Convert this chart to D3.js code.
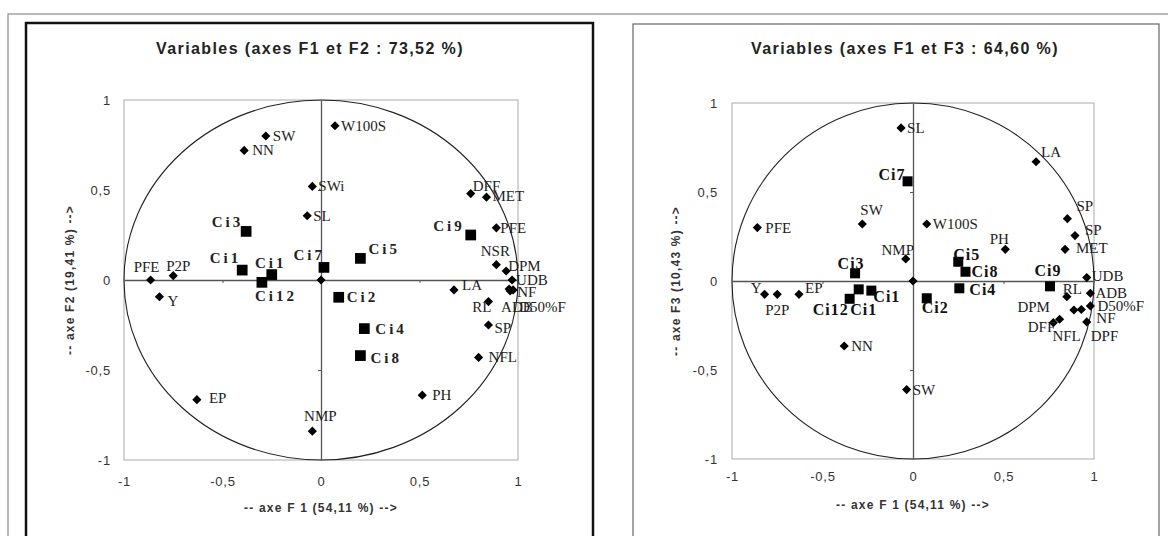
<!DOCTYPE html>
<html>
<head>
<meta charset="utf-8">
<script src="https://cdn.jsdelivr.net/npm/d3@7"></script>
<style>
  body { margin: 0; background: #fff; }
  svg text { font-family: "Liberation Sans", Arial, sans-serif; }
  .title { font-size: 16px; font-weight: bold; fill: #222; letter-spacing: 1.4px; }
  .axisTitle { font-size: 12px; font-weight: bold; fill: #333; letter-spacing: 1.2px; }
  .tickLbl text { font-size: 13px; fill: #333; letter-spacing: 0.8px; }
  .varLbl { font-family: "Liberation Serif", "Times New Roman", serif !important; font-size: 15px; fill: #222; }
  .obsLblA { font-family: "Liberation Serif", "Times New Roman", serif !important; font-size: 15px; font-weight: bold; fill: #222; letter-spacing: 3px; }
  .obsLblB { font-family: "Liberation Serif", "Times New Roman", serif !important; font-size: 16px; font-weight: bold; fill: #111; letter-spacing: 1px; }
</style>
</head>
<body>
<svg id="chart" width="1168" height="536"></svg>
<script>
/*********************************
   DATA
 *********************************/

// Axis Ticks
const tickValues = [-1, -0.5, 0, 0.5, 1];

// Panel 1 : Variables (F1 x F2)
const varLabelsF12 = ["SW", "NN", "W100S", "SWi", "SL", "DFF", "MET", "PFE", "NSR", "DPM", "UDB", "NF", "ADB", "D50%F", "LA", "RL", "SP", "NFL", "PH", "NMP", "EP", "Y", "PFE", "P2P", ""];
const varF1a = [-0.28, -0.39, 0.071, -0.044, -0.07, 0.76, 0.84, 0.89, 0.89, 0.94, 0.97, 0.955, 0.96, 0.975, 0.675, 0.85, 0.85, 0.80, 0.514, -0.044, -0.63, -0.82, -0.865, -0.75, 0];
const varF2 = [0.80, 0.72, 0.857, 0.52, 0.357, 0.48, 0.46, 0.29, 0.085, 0.05, 0, -0.05, -0.06, -0.055, -0.055, -0.12, -0.25, -0.43, -0.64, -0.84, -0.665, -0.093, 0, 0.024, 0];

// Panel 1 : Observations (F1 x F2)
const obsLabelsF12 = ["Ci3", "Ci1", "Ci1", "Ci12", "Ci7", "Ci5", "Ci9", "Ci2", "Ci4", "Ci8"];
const obsF1a = [-0.38, -0.40, -0.25, -0.30, 0.015, 0.20, 0.76, 0.09, 0.22, 0.20];
const obsF2 = [0.27, 0.055, 0.03, -0.013, 0.07, 0.12, 0.25, -0.096, -0.27, -0.42];

// Panel 2 : Variables (F1 x F3)
const varLabelsF13 = ["SL", "PFE", "SW", "W100S", "NMP", "PH", "LA", "SP", "SP", "MET", "UDB", "RL", "ADB", "D50%F", "NF", "DPF", "DPM", "DFF", "NFL", "Y", "P2P", "EP", "NN", "SW", ""];
const varF1b = [-0.066, -0.86, -0.28, 0.076, -0.04, 0.51, 0.68, 0.853, 0.895, 0.84, 0.96, 0.85, 0.98, 0.98, 0.93, 0.96, 0.889, 0.775, 0.81, -0.82, -0.75, -0.63, -0.38, -0.035, 0];
const varF3 = [0.86, 0.30, 0.32, 0.32, 0.124, 0.178, 0.67, 0.35, 0.255, 0.178, 0.019, -0.088, -0.069, -0.14, -0.16, -0.23, -0.163, -0.234, -0.215, -0.075, -0.075, -0.075, -0.365, -0.61, 0];

// Panel 2 : Observations (F1 x F3)
const obsLabelsF13 = ["Ci7", "Ci3", "Ci5", "Ci8", "Ci9", "Ci4", "Ci2", "Ci1", "Ci1", "Ci12"];
const obsF1b = [-0.03, -0.32, 0.25, 0.29, 0.757, 0.256, 0.076, -0.30, -0.23, -0.35];
const obsF3 = [0.56, 0.043, 0.108, 0.052, -0.03, -0.041, -0.097, -0.047, -0.054, -0.10];

/*********************************
   LABEL PLACEMENT (dx, dy, anchor)
 *********************************/
const varPlaceF12 = [[7,5,"start"],[8,5,"start"],[6,5,"start"],[6,5,"start"],[6,5,"start"],[2,-3,"start"],[6,4,"start"],[4,5,"start"],[-1,-9,"middle"],[2,0,"start"],[4,5,"start"],[8,8,"start"],[-9,21,"start"],[6,22,"start"],[8,0,"start"],[3,10,"end"],[6,8,"start"],[10,5,"start"],[10,5,"start"],[8,-10,"middle"],[12,3,"start"],[8,9,"start"],[-4,-8,"middle"],[5,-5,"middle"],[0,0,"start"]];
const obsPlaceF12 = [[-3,-4,"end"],[-1,-7,"end"],[-1,-7,"middle"],[-7,19,"start"],[1,-7,"end"],[8,-4,"start"],[-6,-4,"end"],[8,5,"start"],[11,5,"start"],[10,7,"start"]];
const varPlaceF13 = [[6,5,"start"],[8,5,"start"],[-2,-9,"start"],[6,5,"start"],[-8,-4,"middle"],[-6,-5,"middle"],[5,-5,"start"],[9,-8,"start"],[10,-1,"start"],[11,4,"start"],[5,3,"start"],[-4,-3,"start"],[5,5,"start"],[7,5,"start"],[15,14,"start"],[4,19,"start"],[-24,2,"end"],[2,9,"end"],[7,22,"middle"],[-3,-1,"end"],[0,21,"middle"],[6,-1,"start"],[7,5,"start"],[6,5,"start"],[0,0,"start"]];
const obsPlaceF13 = [[-2,-1,"end"],[-4,-4,"middle"],[-5,-2,"start"],[6,5,"start"],[-2,-10,"middle"],[10,7,"start"],[-5,15,"start"],[5,26,"middle"],[2,11,"start"],[-1,16,"end"]];

/*********************************
   DRAWING
 *********************************/
const svg = d3.select("#chart");
const locale = d3.formatLocale({ decimal: ",", thousands: " ", grouping: [3], currency: ["", ""], minus: "-" });
const fmt = locale.format("~f");

// Outer Frame & Panel Boxes
svg.append("rect").attr("x", 8).attr("y", 14).attr("width", 1170).attr("height", 540).attr("fill", "none").attr("stroke", "#777").attr("stroke-width", 1);
svg.append("rect").attr("x", 26).attr("y", 23).attr("width", 567).attr("height", 530).attr("fill", "none").attr("stroke", "#111").attr("stroke-width", 2.5);
svg.append("rect").attr("x", 633).attr("y", 24).attr("width", 526).attr("height", 530).attr("fill", "none").attr("stroke", "#666").attr("stroke-width", 1.2);

function drawPanel(cfg) {
  let g = svg.append("g");
  let x = d3.scaleLinear().domain([-1, 1]).range([cfg.left, cfg.right]);
  let y = d3.scaleLinear().domain([-1, 1]).range([cfg.bottom, cfg.top]);

  // Title
  g.append("text").attr("class", "title").attr("x", cfg.titleX).attr("y", cfg.titleY).attr("text-anchor", "middle").text(cfg.title);

  // Plot Frame
  g.append("rect").attr("x", x(-1)).attr("y", y(1)).attr("width", x(1) - x(-1)).attr("height", y(-1) - y(1))
    .attr("fill", "none").attr("stroke", "#aaa").attr("stroke-width", 1);

  // Tick Labels
  g.append("g").attr("class", "tickLbl").attr("transform", "translate(0," + y(-1) + ")")
    .call(d3.axisBottom(x).tickValues(tickValues).tickFormat(fmt).tickSize(0).tickPadding(cfg.xPad))
    .call(a => a.select(".domain").remove());
  g.append("g").attr("class", "tickLbl").attr("transform", "translate(" + x(-1) + ",0)")
    .call(d3.axisLeft(y).tickValues(tickValues).tickFormat(fmt).tickSize(0).tickPadding(cfg.yPad))
    .call(a => a.select(".domain").remove());
  g.selectAll(".tickLbl text").attr("font-family", null);

  // Correlation Circle
  g.append("ellipse").attr("cx", x(0)).attr("cy", y(0)).attr("rx", x(1) - x(0)).attr("ry", y(0) - y(1))
    .attr("fill", "none").attr("stroke", "#222").attr("stroke-width", 1.1);

  // Zero Axes With Small Ticks
  let hAxis = g.append("g").attr("transform", "translate(0," + y(0) + ")")
    .call(d3.axisBottom(x).tickValues([-0.5, 0.5]).tickSizeInner(3).tickSizeOuter(0).tickFormat(""));
  let vAxis = g.append("g").attr("transform", "translate(" + x(0) + ",0)")
    .call(d3.axisLeft(y).tickValues([-0.5, 0.5]).tickSizeInner(3).tickSizeOuter(0).tickFormat(""));
  [hAxis, vAxis].forEach(a => {
    a.select(".domain").attr("stroke", "#555").attr("stroke-width", 1.3);
    a.selectAll(".tick line").attr("stroke", "#555");
  });

  // Axis Titles
  g.append("text").attr("class", "axisTitle").attr("x", x(0)).attr("y", cfg.xTitleY).attr("text-anchor", "middle").text(cfg.xTitle);
  g.append("text").attr("class", "axisTitle").attr("transform", "translate(" + cfg.yTitleX + "," + y(0) + ") rotate(-90)")
    .attr("text-anchor", "middle").text(cfg.yTitle);

  // Variables (Diamonds)
  let diamond = d3.symbol(d3.symbolSquare, 42);
  g.selectAll(".var").data(cfg.varX).enter().append("path")
    .attr("d", diamond)
    .attr("transform", (d, i) => "translate(" + x(d) + "," + y(cfg.varY[i]) + ") rotate(45)")
    .attr("fill", "#000");
  g.selectAll(".varLbl").data(cfg.varLabels).enter().append("text").attr("class", "varLbl")
    .attr("x", (d, i) => x(cfg.varX[i]) + cfg.varPlace[i][0])
    .attr("y", (d, i) => y(cfg.varY[i]) + cfg.varPlace[i][1])
    .attr("text-anchor", (d, i) => cfg.varPlace[i][2])
    .text(d => d);

  // Observations (Squares)
  let square = d3.symbol(d3.symbolSquare, cfg.squareSize);
  g.selectAll(".obs").data(cfg.obsX).enter().append("path")
    .attr("d", square)
    .attr("transform", (d, i) => "translate(" + x(d) + "," + y(cfg.obsY[i]) + ")")
    .attr("fill", "#000");
  g.selectAll(".obsLbl").data(cfg.obsLabels).enter().append("text").attr("class", cfg.obsClass)
    .attr("x", (d, i) => x(cfg.obsX[i]) + cfg.obsPlace[i][0])
    .attr("y", (d, i) => y(cfg.obsY[i]) + cfg.obsPlace[i][1])
    .attr("text-anchor", (d, i) => cfg.obsPlace[i][2])
    .text(d => d);
}

// Left Panel
drawPanel({
  left: 124, right: 518, top: 100, bottom: 460, xPad: 17, yPad: 13,
  title: "Variables (axes F1 et F2 : 73,52 %)", titleX: 310, titleY: 54,
  xTitle: "-- axe F 1 (54,11 %) -->", xTitleY: 512,
  yTitle: "-- axe F2 (19,41 %) -->", yTitleX: 74,
  varLabels: varLabelsF12, varX: varF1a, varY: varF2, varPlace: varPlaceF12,
  obsLabels: obsLabelsF12, obsX: obsF1a, obsY: obsF2, obsPlace: obsPlaceF12,
  obsClass: "obsLblA", squareSize: 115
});

// Right Panel
drawPanel({
  left: 732, right: 1094, top: 103, bottom: 459, xPad: 13, yPad: 14,
  title: "Variables (axes F1 et F3 : 64,60 %)", titleX: 905, titleY: 54,
  xTitle: "-- axe F 1 (54,11 %) -->", xTitleY: 509,
  yTitle: "-- axe F3 (10,43 %) -->", yTitleX: 680,
  varLabels: varLabelsF13, varX: varF1b, varY: varF3, varPlace: varPlaceF13,
  obsLabels: obsLabelsF13, obsX: obsF1b, obsY: obsF3, obsPlace: obsPlaceF13,
  obsClass: "obsLblB", squareSize: 100
});
</script>
</body>
</html>
